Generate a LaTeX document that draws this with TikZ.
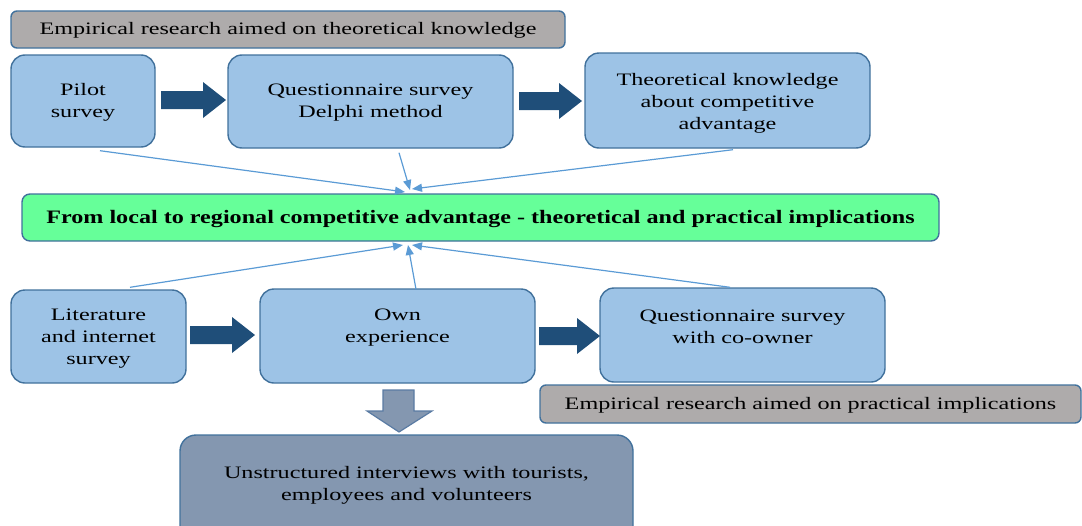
\documentclass[tikz,border=0pt]{standalone}
\usepackage{fontspec}
\setmainfont[FakeStretch=1.38]{Liberation Serif}
\usetikzlibrary{arrows.meta,calc}
\definecolor{boxfill}{HTML}{9DC3E6}
\definecolor{boxline}{HTML}{41719C}
\definecolor{darkarrow}{HTML}{1F4E79}
\definecolor{grayfill}{HTML}{AEABAB}
\definecolor{greenfill}{HTML}{66FF99}
\definecolor{slatefill}{HTML}{8497B0}
\definecolor{slateline}{HTML}{5A7BA3}
\definecolor{connline}{HTML}{5B9BD5}
\newcommand\blockarr[3]{% x, y (center), length
  \fill[darkarrow] (#1,#2-9) -- ++(#3-23,0) -- ++(0,-9) -- (#1+#3,#2) -- (#1+#3-23,#2+18) -- ++(0,-9) -- (#1,#2+9) -- cycle;}
\begin{document}
\begin{tikzpicture}[x=1pt,y=-1pt,
  every node/.style={font=\fontsize{17.5}{22}\selectfont, align=center, inner sep=0pt},
  bluebox/.style={draw=boxline, line width=1.4pt, fill=boxfill, rounded corners=14pt},
  graybox/.style={draw=boxline, line width=1.4pt, fill=grayfill, rounded corners=6pt, text height=11pt, text depth=1pt},
  greenbox/.style={draw=boxline, line width=1.4pt, fill=greenfill, rounded corners=8pt, text height=13pt, text depth=2pt},
  slatebox/.style={draw=boxline, line width=1.4pt, fill=slatefill, rounded corners=16pt},
  conn/.style={draw=connline, line width=1.2pt, -{Triangle[length=10pt,width=8pt]}}]
\useasboundingbox (0,0) rectangle (1082,525);

% top row
\node[graybox, minimum width=554pt, minimum height=37pt] (gtop) at (288,29.5) {Empirical research aimed on theoretical knowledge};
\node[bluebox, minimum width=144pt, minimum height=92pt] (pilot) at (83,101) {};
\node (pilott) at (83,102.5) {Pilot\\survey};
\node[bluebox, minimum width=285pt, minimum height=93pt] (delphi) at (370.5,101.5) {};
\node (delphit) at (370.5,103) {Questionnaire survey\\Delphi method};
\node[bluebox, minimum width=285pt, minimum height=95pt] (theo) at (727.5,100.5) {};
\node (theot) at (727.5,103) {Theoretical knowledge\\about competitive\\advantage};
\blockarr{161}{100}{65}
\blockarr{519}{101}{63}

% green
\node[greenbox, minimum width=917pt, minimum height=47pt] (green) at (480.5,217.5) {\fontsize{19}{22}\selectfont\bfseries\scalebox{0.92}[1]{From local to regional competitive advantage - theoretical and practical implications}};

% bottom row
\node[bluebox, minimum width=175pt, minimum height=93pt] (lit) at (98.5,336.5) {};
\node (litt) at (98.5,338.5) {Literature\\and internet\\survey};
\node[bluebox, minimum width=275pt, minimum height=94pt] (own) at (397.5,336) {};
\node (ownt) at (397.5,328) {Own\\experience};
\node[bluebox, minimum width=285pt, minimum height=94pt] (coown) at (742.5,335) {};
\node (coownt) at (742.5,327) {Questionnaire survey\\with co-owner};
\blockarr{190}{335}{65}
\blockarr{539}{336}{61}
\node[graybox, minimum width=541pt, minimum height=38pt] (gbot) at (810.5,404) {Empirical research aimed on practical implications};

% down arrow
\filldraw[fill=slatefill, draw=slateline, line width=1.2pt] (383,390) -- (414,390) -- (414,411) -- (432,411) -- (399,432) -- (367,411) -- (383,411) -- cycle;
\node[slatebox, minimum width=453pt, minimum height=130pt] (unstr) at (406.5,500) {};
\node (unstrt) at (406.5,485) {Unstructured interviews with tourists,\\employees and volunteers};

% connectors
\coordinate (t1) at (405,192);
\coordinate (t2) at (410,190);
\coordinate (t3) at (412,189);
\coordinate (b1) at (403,245);
\coordinate (b2) at (408,245);
\coordinate (b3) at (412,245);
\draw[conn] ([xshift=17pt,yshift=-3pt]pilot.south) -- (t1);
\draw[conn] ([xshift=28.5pt,yshift=-4pt]delphi.south) -- (t2);
\draw[conn] ([xshift=5.5pt,yshift=-1pt]theo.south) -- (t3);
\draw[conn] ([xshift=31.5pt,yshift=2pt]lit.north) -- (b1);
\draw[conn] ([xshift=18.5pt,yshift=-1pt]own.north) -- (b2);
\draw[conn] ([xshift=-12.5pt]coown.north) -- (b3);
\end{tikzpicture}
\end{document}
